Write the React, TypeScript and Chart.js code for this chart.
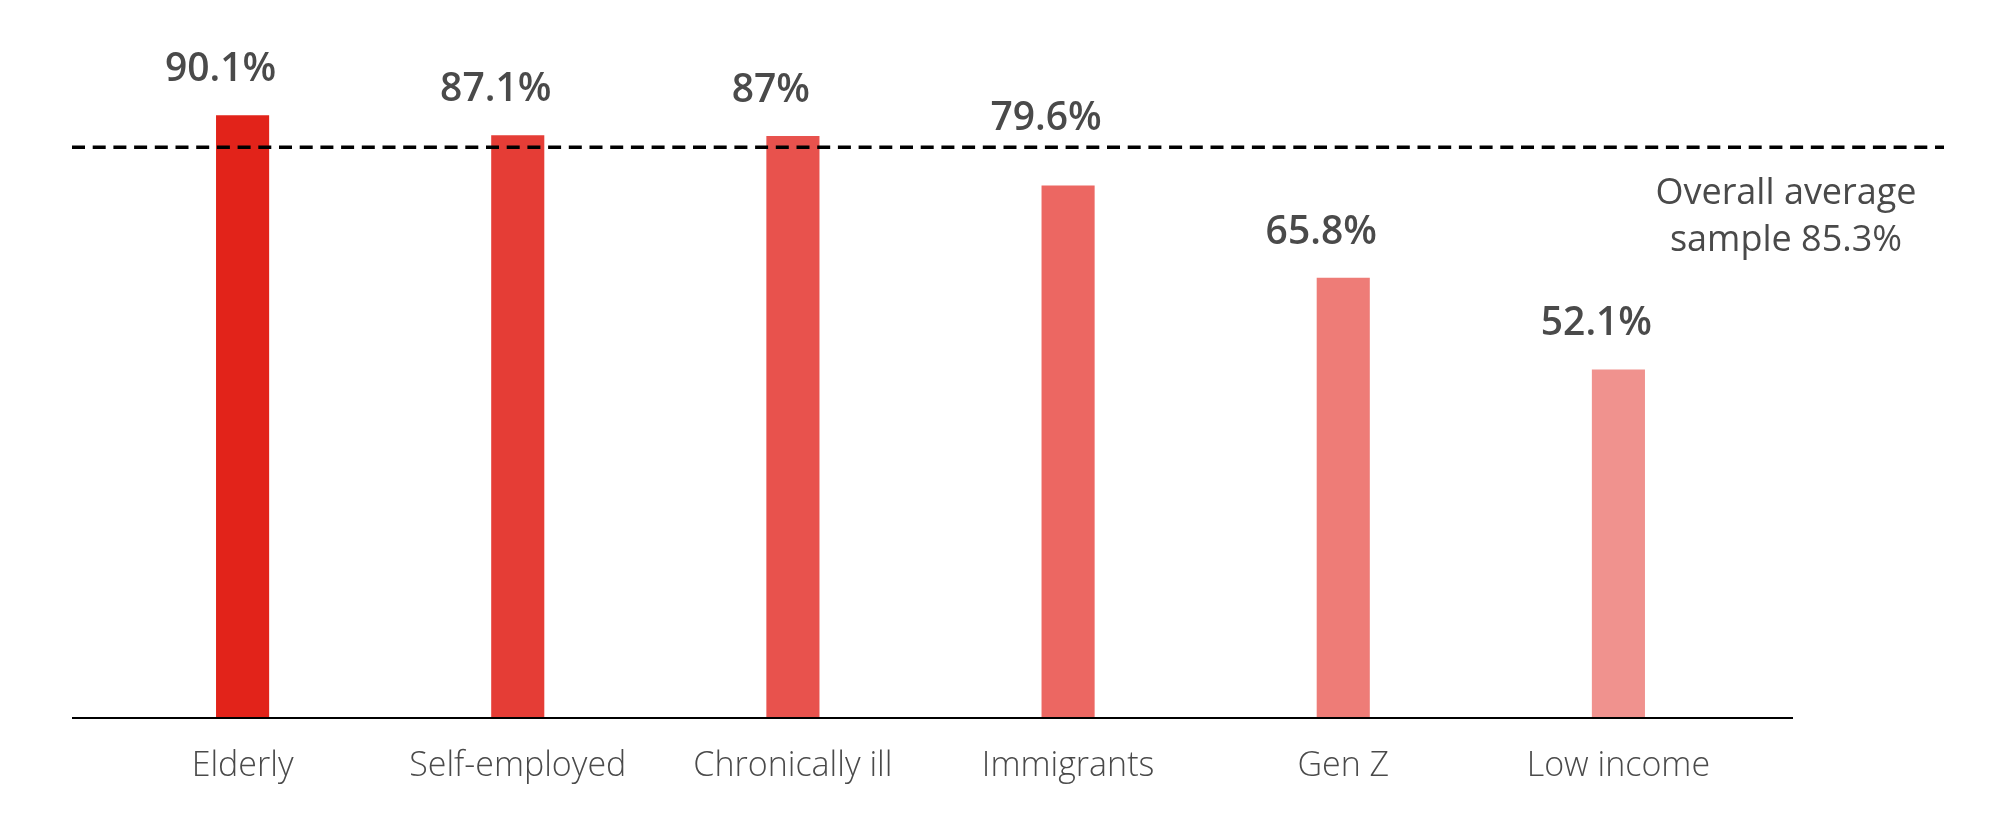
import { useEffect, useRef } from "react";
import { Chart, registerables, Plugin } from "chart.js";

Chart.register(...registerables);

const categories = [
  "Elderly",
  "Self-employed",
  "Chronically ill",
  "Immigrants",
  "Gen Z",
  "Low income",
];
const shares = [90.1, 87.1, 87, 79.6, 65.8, 52.1];
const valueLabels = ["90.1%", "87.1%", "87%", "79.6%", "65.8%", "52.1%"];
const barColors = ["#E2231A", "#E53D36", "#E8524D", "#EC6762", "#EE7C77", "#F0928E"];
const overallAverage = 85.3;
const averageNote = ["Overall average", "sample 85.3%"];

const TEXT = "#4a4a4a";
const FONT = "'Open Sans', 'DejaVu Sans', sans-serif";

// axis line, average line, value labels and the note
const overlay: Plugin<"bar"> = {
  id: "overlay",
  afterDatasetsDraw(chart) {
    const { ctx, chartArea, scales } = chart;
    const y = scales.y;
    const zeroY = y.getPixelForValue(0);
    const avgY = y.getPixelForValue(overallAverage);

    ctx.save();
    // baseline
    ctx.strokeStyle = "#000";
    ctx.lineWidth = 2;
    ctx.beginPath();
    ctx.moveTo(chartArea.left - 33, zeroY);
    ctx.lineTo(chartArea.right + 37, zeroY);
    ctx.stroke();

    // value labels, lifted above the average line where they would cross it
    ctx.fillStyle = TEXT;
    ctx.font = `600 39px ${FONT}`;
    ctx.textAlign = "center";
    ctx.textBaseline = "alphabetic";
    const meta = chart.getDatasetMeta(0);
    meta.data.forEach((bar, i) => {
      let base = bar.y - 34;
      const top = base - 28;
      if (base > avgY - 14 && top < avgY + 14) base = avgY - 17;
      ctx.fillText(valueLabels[i], bar.x - 22, base);
    });

    // overall average line
    ctx.strokeStyle = "#000";
    ctx.lineWidth = 3.5;
    ctx.setLineDash([13, 7.7]);
    ctx.beginPath();
    ctx.moveTo(chartArea.left - 33, avgY);
    ctx.lineTo(chart.width - 56, avgY);
    ctx.stroke();
    ctx.setLineDash([]);

    // note
    ctx.font = `400 36px ${FONT}`;
    ctx.fillStyle = TEXT;
    ctx.textAlign = "center";
    averageNote.forEach((line, i) => {
      ctx.fillText(line, chartArea.right + 30, avgY + 57 + i * 47);
    });
    ctx.restore();
  },
};

export default function App() {
  const canvasRef = useRef<HTMLCanvasElement>(null);

  useEffect(() => {
    const canvas = canvasRef.current;
    if (!canvas) return;
    const chart = new Chart(canvas, {
      type: "bar",
      data: {
        labels: categories,
        datasets: [
          {
            data: shares,
            backgroundColor: barColors,
            borderWidth: 0,
            categoryPercentage: 1,
            barPercentage: 0.193,
          },
        ],
      },
      options: {
        animation: false,
        responsive: true,
        maintainAspectRatio: false,
        devicePixelRatio: 1,
        layout: { padding: { top: 49, left: 105, right: 244, bottom: 0 } },
        plugins: {
          legend: { display: false },
          tooltip: { enabled: false },
        },
        scales: {
          y: { display: false, min: 0, max: 100 },
          x: {
            grid: { display: false, drawTicks: false },
            border: { display: false },
            ticks: {
              color: TEXT,
              padding: 28,
              font: { family: FONT, size: 34, weight: "300" },
            },
            afterFit(scale) {
              scale.height = 106;
            },
          },
        },
      },
      plugins: [overlay],
    });
    return () => chart.destroy();
  }, []);

  return (
    <div
      style={{
        position: "absolute",
        left: 0,
        top: 0,
        width: 2000,
        height: 824,
        background: "#fff",
      }}
    >
      <canvas ref={canvasRef} />
    </div>
  );
}
